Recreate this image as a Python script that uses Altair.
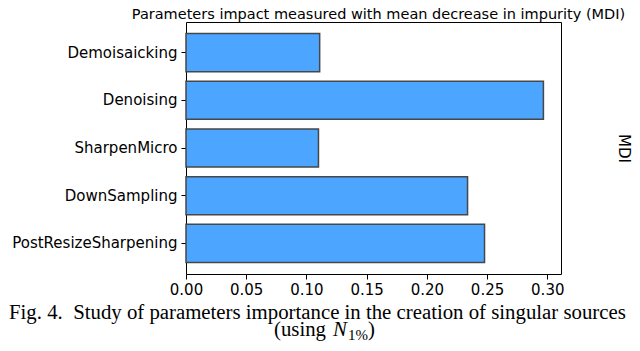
import altair as alt
import pandas as pd

params = ["Demoisaicking", "Denoising", "SharpenMicro", "DownSampling", "PostResizeSharpening"]
mdi = [0.111, 0.2968, 0.110, 0.2338, 0.2479]
x_ticks = [0.00, 0.05, 0.10, 0.15, 0.20, 0.25, 0.30]

df = pd.DataFrame({"param": params, "mdi": mdi})

FONT = "DejaVu Sans"
SERIF = "Liberation Serif"

yscale = alt.Scale(domain=params, paddingInner=0.2, paddingOuter=0.24)
xscale = alt.Scale(domain=[0, 0.3114], nice=False, zero=False)

bars = alt.Chart(df).mark_bar(
    fill="#4ca5ff", stroke="#474747", strokeWidth=1.5
).encode(
    x=alt.X("mdi:Q", scale=xscale,
            axis=alt.Axis(values=x_ticks, format=".2f", title=None, grid=False,
                          labelFontSize=15, labelFont=FONT, labelColor="black",
                          tickColor="black", tickSize=5, labelPadding=3, domain=False,
                          labelFlush=False)),
    y=alt.Y("param:N", scale=yscale,
            axis=alt.Axis(title=None, labelFontSize=15, labelFont=FONT, labelColor="black",
                          tickColor="black", tickSize=5, labelPadding=4, domain=False,
                          labelLimit=400)),
)

right_axis = alt.Chart(df).mark_point(opacity=0).encode(
    x=alt.X("mdi:Q", scale=xscale),
    y=alt.Y("param:N", scale=yscale,
            axis=alt.Axis(orient="right", title="MDI", labels=False, ticks=False, domain=False,
                          titleFont=FONT, titleFontSize=15, titleFontWeight="normal",
                          titleColor="black", titleAngle=90, titlePadding=54)),
)

one = alt.Data(values=[{"a": 1}])

cap1 = alt.Chart(one).mark_text(
    text="Fig. 4.\u2002Study of parameters importance in the creation of singular sources",
    font=SERIF, fontSize=20.8, align="left", baseline="alphabetic", color="black"
).encode(x=alt.value(-177), y=alt.value(297))

cap2a = alt.Chart(one).mark_text(
    text="(using", font=SERIF, fontSize=20.8, align="right", baseline="alphabetic", color="black"
).encode(x=alt.value(140), y=alt.value(314))

cap2b = alt.Chart(one).mark_text(
    text="N", font=SERIF, fontSize=20.8, fontStyle="italic", align="left", baseline="alphabetic", color="black"
).encode(x=alt.value(147), y=alt.value(314))

cap2c = alt.Chart(one).mark_text(
    text="1%", font=SERIF, fontSize=15, align="left", baseline="alphabetic", color="black"
).encode(x=alt.value(162), y=alt.value(318))

cap2d = alt.Chart(one).mark_text(
    text=")", font=SERIF, fontSize=20.8, align="left", baseline="alphabetic", color="black"
).encode(x=alt.value(182), y=alt.value(314))

chart = alt.layer(bars, right_axis, cap1, cap2a, cap2b, cap2c, cap2d).resolve_axis(
    y="independent"
).properties(
    width=375,
    height=252,
    title=alt.TitleParams(
        "Parameters impact measured with mean decrease in impurity (MDI)",
        font=FONT, fontSize=14.5, fontWeight="normal", color="black",
        anchor="middle", dx=5, offset=0,
    ),
    autosize=alt.AutoSizeParams(type="none"),
    padding={"left": 178, "top": 14, "right": 71, "bottom": 69},
).configure_view(stroke="black", strokeWidth=1)

chart.save("out.html", embed_options={"renderer": "svg", "actions": False})
